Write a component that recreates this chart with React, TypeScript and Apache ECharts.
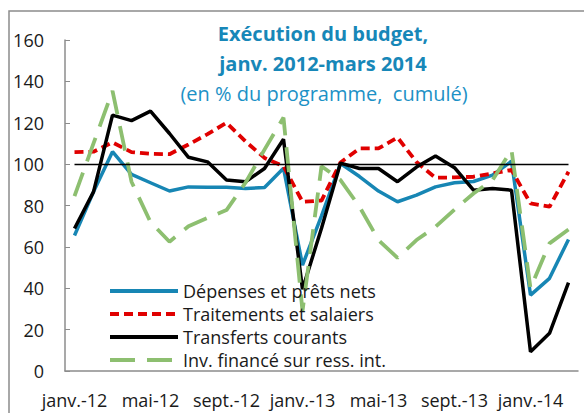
import React, { useEffect, useRef } from "react";
import * as echarts from "echarts";

const months = [
  "janv.-12", "févr.-12", "mars-12", "avr.-12", "mai-12", "juin-12", "juil.-12", "août-12", "sept.-12",
  "oct.-12", "nov.-12", "déc.-12", "janv.-13", "févr.-13", "mars-13", "avr.-13", "mai-13", "juin-13",
  "juil.-13", "août-13", "sept.-13", "oct.-13", "nov.-13", "déc.-13", "janv.-14", "févr.-14", "mars-14",
];

const depenses = [65.5, 86.6, 106, 95, 91, 87, 89, 88.8, 88.8, 88.2, 88.7, 98, 51.2, 75, 100.3, 94, 87, 81.8, 85, 89, 91, 91.6, 94.7, 101.4, 36.7, 44.8, 63.6];
const traitements = [105.8, 106, 110.5, 105.8, 105, 104.8, 109.5, 114.5, 120, 111, 103, 99, 81.8, 82.4, 100.8, 107.6, 107.6, 112.9, 101, 93.4, 93.6, 93.9, 95.5, 97.2, 81, 79.4, 96.3];
const transferts = [68.9, 86.6, 123.7, 121, 125.6, 114.8, 103.3, 101.1, 92.3, 91.5, 97.9, 112, 39.5, 69, 100.5, 97.9, 97.9, 91.5, 98.6, 103.9, 98.3, 87.4, 88.2, 87.4, 9.3, 18.2, 42.7];
const investissement = [84.5, 110, 135.4, 91.5, 72, 62.5, 70, 74, 77.8, 91, 107, 122.5, 29, 99, 92.3, 79.4, 63.3, 54.7, 63.3, 69.7, 78, 85.8, 92.3, 106.8, 40, 61.7, 68.4];

const seriesNames = [
  "Dépenses et prêts nets",
  "Traitements et salaiers",
  "Transferts courants",
  "Inv. financé sur ress. int.",
];
const referenceLevel = 100;
const titleLines = ["Exécution du budget,", "janv. 2012-mars 2014", "(en % du programme,  cumulé)"];

const FONT = "'Open Sans', 'Noto Sans', sans-serif";
const TEAL = "#1787b8";

export default function App() {
  const ref = useRef<HTMLDivElement>(null);
  useEffect(() => {
    const chart = echarts.init(ref.current!, null, { renderer: "svg" });
    chart.setOption({
      animation: false,
      textStyle: { fontFamily: FONT },
      grid: { left: 65, right: 6, top: 40, bottom: 42 },
      graphic: [
        {
          type: "rect",
          shape: { x: 9, y: 11, width: 620, height: 500 },
          style: { fill: "none", stroke: "#8c8c8c", lineWidth: 1.5 },
          silent: true,
        },
        {
          type: "text", x: 323, y: 33,
          style: { text: titleLines[0], fontFamily: FONT, fontSize: 20, fontWeight: "bold", fill: TEAL, align: "center", verticalAlign: "middle" },
        },
        {
          type: "text", x: 323, y: 63,
          style: { text: titleLines[1], fontFamily: FONT, fontSize: 20, fontWeight: "bold", fill: TEAL, align: "center", verticalAlign: "middle" },
        },
        {
          type: "text", x: 324, y: 93,
          style: { text: titleLines[2], fontFamily: FONT, fontSize: 20, fill: "#1c91c6", align: "center", verticalAlign: "middle" },
        },
      ],
      legend: {
        data: seriesNames,
        orient: "vertical",
        left: 108,
        top: 281,
        padding: 0,
        itemWidth: 68,
        itemHeight: 14,
        itemGap: 3,
        itemStyle: { opacity: 0, borderWidth: 0 },
        lineStyle: { width: 4 },
        textStyle: { fontFamily: FONT, fontSize: 18, color: "#1a1a1a", lineHeight: 20 },
      },
      xAxis: {
        type: "category",
        data: months,
        boundaryGap: true,
        axisLine: { lineStyle: { color: "#8c8c8c", width: 1.5 } },
        axisTick: { inside: true, length: 5, interval: 3, lineStyle: { color: "#8c8c8c" } },
        axisLabel: { interval: 3, margin: 20, fontSize: 18, color: "#1a1a1a", fontFamily: FONT, hideOverlap: false },
        splitLine: { show: false },
      },
      yAxis: {
        type: "value",
        min: 0,
        max: 160,
        interval: 20,
        axisLine: { show: true, lineStyle: { color: "#8c8c8c", width: 1.5 } },
        axisTick: { show: true, inside: true, length: 5, lineStyle: { color: "#8c8c8c" } },
        axisLabel: { margin: 21, fontSize: 18, color: "#1a1a1a", fontFamily: FONT },
        splitLine: { show: false },
      },
      series: [
        {
          name: seriesNames[0], type: "line", data: depenses, symbol: "none",
          lineStyle: { color: "#1786b4", width: 3.5 }, itemStyle: { color: "#1786b4" },
          markLine: {
            silent: true, symbol: ["none", "none"], label: { show: false },
            lineStyle: { color: "#000", width: 1.3, type: "solid" },
            data: [[{ coord: [months[0], referenceLevel] }, { coord: [months[months.length - 1], referenceLevel] }]],
          },
        },
        {
          name: seriesNames[1], type: "line", data: traitements, symbol: "none",
          lineStyle: { color: "#e00000", width: 3.8, type: [9, 5] }, itemStyle: { color: "#e00000" },
        },
        {
          name: seriesNames[2], type: "line", data: transferts, symbol: "none",
          lineStyle: { color: "#000000", width: 3.5 }, itemStyle: { color: "#000000" },
        },
        {
          name: seriesNames[3], type: "line", data: investissement, symbol: "none",
          lineStyle: { color: "#8dbf70", width: 3.8, type: [25, 12] }, itemStyle: { color: "#8dbf70" },
        },
      ],
    });
    return () => chart.dispose();
  }, []);
  return <div ref={ref} style={{ position: "absolute", left: 0, top: 0, width: 584, height: 413 }} />;
}
